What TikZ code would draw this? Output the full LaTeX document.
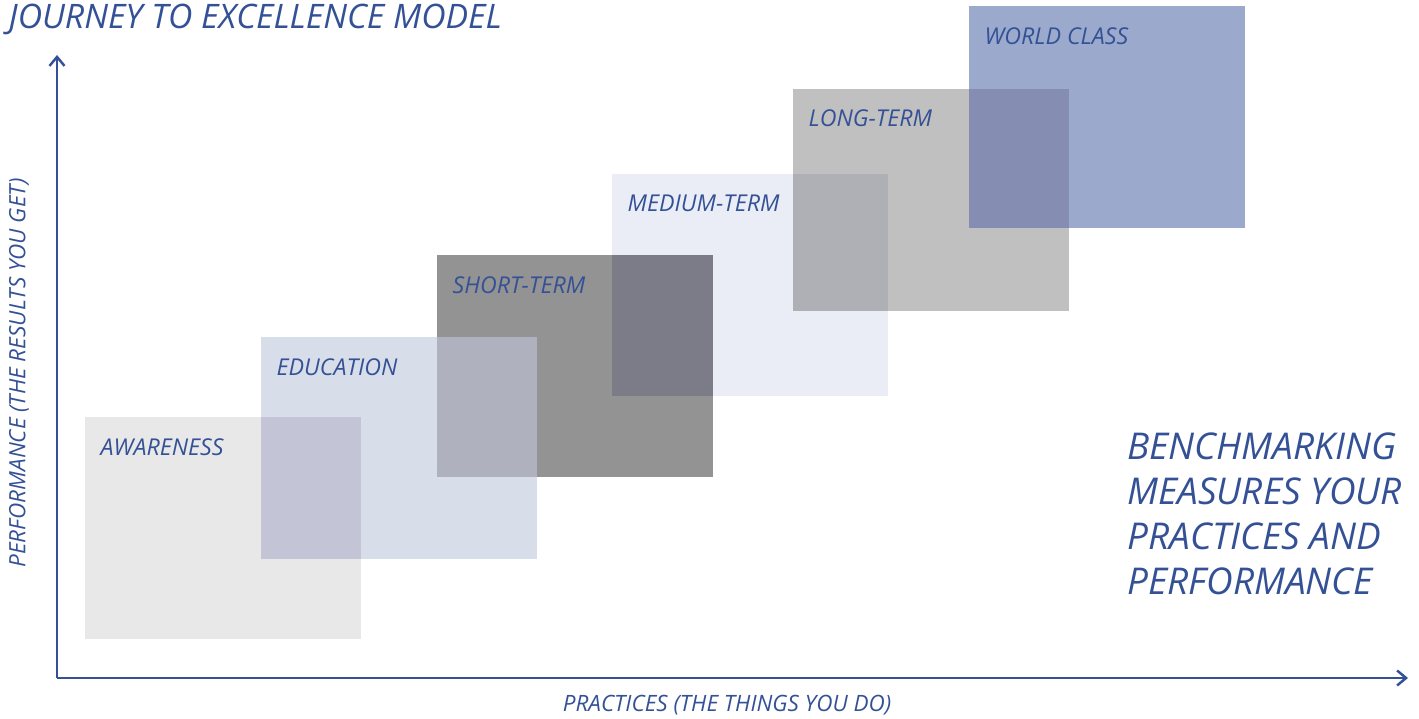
\documentclass[tikz,border=0pt]{standalone}
\usepackage{fontspec}
\setmainfont{Open Sans}
\usepackage{tikz}
\usetikzlibrary{arrows.meta}

\definecolor{textblue}{RGB}{52,81,150}
\definecolor{awarefill}{HTML}{E8E8E8}
\definecolor{edufill}{HTML}{D8DDEA}
\definecolor{shortfill}{HTML}{939393}
\definecolor{mediumfill}{HTML}{EAEDF5}
\definecolor{longfill}{HTML}{C0C0C0}
\definecolor{worldfill}{HTML}{9BAACC}

\begin{document}
\begin{tikzpicture}

\tikzstyle{stage}=[draw=none,rectangle,outer sep=0pt,inner sep=0pt,minimum width=2.76cm,minimum height=2.22cm,anchor=south west]
\tikzstyle{stagelabel}=[text=textblue,anchor=base west,inner sep=0pt,font=\fontsize{6.6}{7}\selectfont\itshape]
\tikzstyle{axis}=[draw=textblue,line width=0.7pt,-{Straight Barb[length=0.9mm,width=1.5mm]}]

\useasboundingbox (0,0) rectangle (14.19cm,7.18cm);

% stages
\node (awareness) [stage,fill=awarefill] at (0.85cm,0.79cm) {};
\node (education) [stage,fill=edufill] at (2.61cm,1.59cm) {};
\node (shortterm) [stage,fill=shortfill] at (4.37cm,2.41cm) {};
\node (mediumterm) [stage,fill=mediumfill] at (6.12cm,3.22cm) {};
\node (longterm) [stage,fill=longfill] at (7.93cm,4.07cm) {};
\node (worldclass) [stage,fill=worldfill] at (9.69cm,4.90cm) {};

% overlaps
\fill [fill={rgb,255:red,195;green,196;blue,213}] (education.south west) rectangle (awareness.north east);
\fill [fill={rgb,255:red,175;green,177;blue,191}] (shortterm.south west) rectangle (education.north east);
\fill [fill={rgb,255:red,123;green,124;blue,135}] (mediumterm.south west) rectangle (shortterm.north east);
\fill [fill={rgb,255:red,175;green,176;blue,181}] (longterm.south west) rectangle (mediumterm.north east);
\fill [fill={rgb,255:red,133;green,141;blue,178}] (worldclass.south west) rectangle (longterm.north east);

\node (l_aw) [stagelabel] at ([xshift=0.15cm,yshift=-0.38cm]awareness.north west) {AWARENESS};
\node (l_ed) [stagelabel] at ([xshift=0.15cm,yshift=-0.38cm]education.north west) {EDUCATION};
\node (l_st) [stagelabel] at ([xshift=0.15cm,yshift=-0.38cm]shortterm.north west) {SHORT-TERM};
\node (l_mt) [stagelabel] at ([xshift=0.15cm,yshift=-0.38cm]mediumterm.north west) {MEDIUM-TERM};
\node (l_lt) [stagelabel] at ([xshift=0.15cm,yshift=-0.38cm]longterm.north west) {LONG-TERM};
\node (l_wc) [stagelabel] at ([xshift=0.15cm,yshift=-0.38cm]worldclass.north west) {WORLD CLASS};

% axes
\coordinate (origin) at (0.57cm,0.40cm);
\coordinate (ytip) at (0.57cm,6.63cm);
\coordinate (xtip) at (14.08cm,0.40cm);
\draw [axis] (origin) -- (ytip);
\draw [axis] (origin) -- (xtip);

\node (ylabel) [text=textblue,rotate=90,font=\fontsize{6.4}{7}\selectfont\itshape] at (0.19cm,3.45cm) {PERFORMANCE (THE RESULTS YOU GET)};
\node (xlabel) [text=textblue,anchor=base,inner sep=0pt,font=\fontsize{6.4}{7}\selectfont\itshape] at (7.27cm,0.07cm) {PRACTICES (THE THINGS YOU DO)};

\node (title) [text=textblue,anchor=base west,inner sep=0pt,font=\fontsize{9.6}{11}\selectfont\itshape] at (0.08cm,6.89cm) {JOURNEY TO EXCELLENCE MODEL};

\node (bench) [text=textblue,anchor=north west,inner sep=0pt,align=left,font=\fontsize{10.5}{12.8}\selectfont\itshape] at (11.27cm,2.86cm) {BENCHMARKING\\MEASURES YOUR\\PRACTICES AND\\PERFORMANCE};

\end{tikzpicture}
\end{document}
